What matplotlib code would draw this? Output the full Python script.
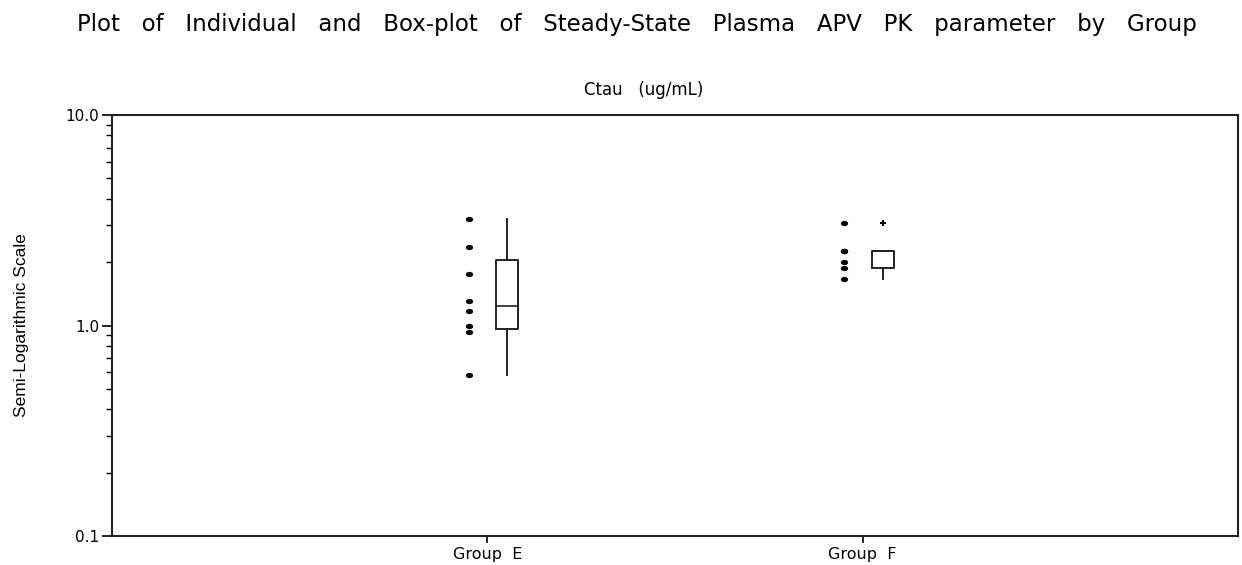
import numpy as np
import matplotlib
matplotlib.use("Agg")
import matplotlib.pyplot as plt
from matplotlib.path import Path
from matplotlib.transforms import Affine2D

# valores (ug/mL)
grupos = ["Group  E", "Group  F"]
ctau_e = [0.58, 0.93, 1.00, 1.17, 1.31, 1.75, 2.35, 3.20]
ctau_f = [1.66, 1.87, 2.00, 2.26, 2.26, 2.26, 3.07]
y_ticks = [0.1, 1.0, 10.0]
y_labels = ["0.1", "1.0", "10.0"]

plt.rcParams['font.family'] = ['DejaVu Sans']


def cuantil_sas(x, p):
    # definicion 5 de SAS (la que usa PROC UNIVARIATE por defecto)
    x = np.sort(x)
    n = len(x)
    j = int(np.floor(n * p))
    g = n * p - j
    if g > 0:
        return x[j]
    return (x[j - 1] + x[j]) / 2


def stats_caja(datos, etiqueta):
    x = np.sort(np.array(datos))
    q1 = cuantil_sas(x, 0.25)
    med = cuantil_sas(x, 0.5)
    q3 = cuantil_sas(x, 0.75)
    iqr = q3 - q1
    dentro = x[(x >= q1 - 1.5 * iqr) & (x <= q3 + 1.5 * iqr)]
    fuera = x[(x < q1 - 1.5 * iqr) | (x > q3 + 1.5 * iqr)]
    return dict(label=etiqueta, q1=q1, med=med, q3=q3,
                whislo=dentro.min(), whishi=dentro.max(), fliers=fuera)


fig = plt.figure(figsize=(12.42, 5.65), dpi=100)
ax = fig.add_axes([112 / 1242, 1 - 536 / 565, 1126 / 1242, 421 / 565])

elipse = Path.unit_circle().transformed(Affine2D().scale(1.5, 1.0))

datos = [ctau_e, ctau_f]
for i, d in enumerate(datos):
    pos = i + 1
    ax.plot([pos - 0.05] * len(d), d, linestyle='none', marker=elipse,
            markersize=4.2, color='black')

cajas = [stats_caja(d, g) for d, g in zip(datos, grupos)]
ax.bxp(cajas, positions=[1.052, 2.054], widths=0.057, showcaps=False,
       boxprops=dict(color='#222222', linewidth=1.4),
       whiskerprops=dict(color='#222222', linewidth=1.4),
       medianprops=dict(color='#222222', linewidth=1.2),
       flierprops=dict(marker='+', markersize=5, markeredgecolor='black',
                       markeredgewidth=1.4))

ax.set_yscale('log')
ax.set_ylim(0.1, 10.0)
ax.set_xlim(0, 3)
ax.set_yticks(y_ticks)
ax.set_yticklabels(y_labels, fontsize=11)
ax.set_xticks([1, 2])
ax.set_xticklabels(grupos, fontsize=11.5)
ax.tick_params(axis='y', which='major', length=7, width=1.2, pad=2)
ax.tick_params(axis='y', which='minor', length=4, width=1.0)
ax.tick_params(axis='x', length=5, width=1.2, pad=3)
for s in ax.spines.values():
    s.set_linewidth(1.5)
    s.set_color('#222222')

fig.text(22 / 1242, 1 - 325 / 565, "Semi-Logarithmic Scale", rotation=90,
         ha='center', va='center', fontsize=12.5, family='Liberation Sans')
fig.text(644 / 1242, 1 - 90 / 565, "Ctau   (ug/mL)", ha='center', va='center',
         fontsize=12)
fig.text(637 / 1242, 1 - 25 / 565,
         "Plot   of   Individual   and   Box-plot   of   Steady-State   Plasma   APV   PK   parameter   by   Group",
         ha='center', va='center', fontsize=16.5)

fig.savefig("out.png", dpi=100)
